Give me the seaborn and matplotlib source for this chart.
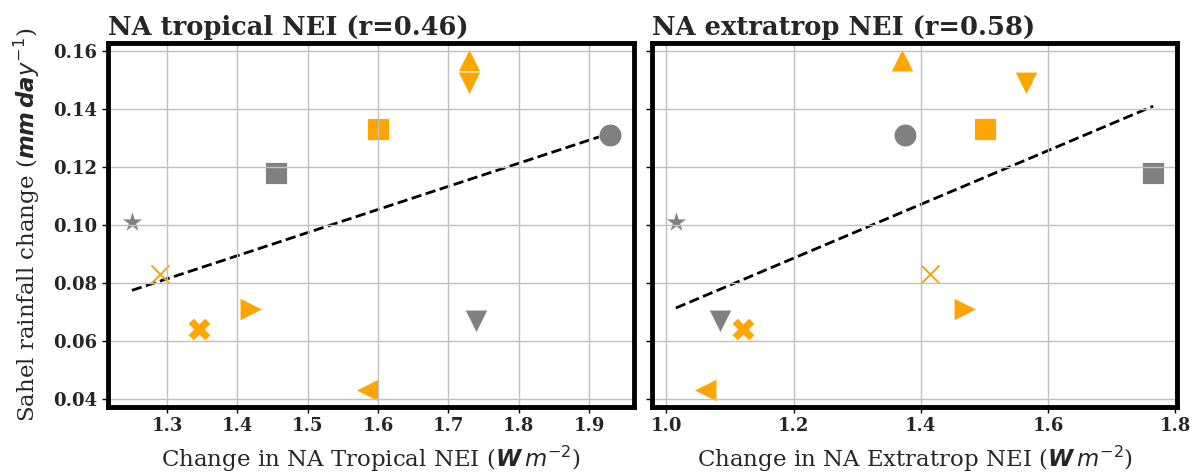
import matplotlib
matplotlib.use("Agg")
import matplotlib.pyplot as plt
import seaborn as sns
import pandas as pd

# Data (one point per model)

model_markers = ["o", "s", "s", "^", "v", "v", "*", "x", "X", ">", "<"]
model_colors = ["grey", "grey", "orange", "orange", "orange", "grey",
                "grey", "orange", "orange", "orange", "orange"]

sahel_rain = [0.131, 0.118, 0.133, 0.157, 0.149, 0.067, 0.101, 0.083, 0.064, 0.071, 0.043]
tropical_nei = [1.93, 1.455, 1.60, 1.73, 1.73, 1.74, 1.25, 1.29, 1.345, 1.42, 1.585]
extratrop_nei = [1.375, 1.765, 1.50, 1.37, 1.565, 1.085, 1.015, 1.415, 1.12, 1.47, 1.06]

titles = ["NA tropical NEI (r=0.46)", "NA extratrop NEI (r=0.58)"]
xlabels = [r"Change in NA Tropical NEI ($\boldsymbol{W\,m^{-2}}$)",
           r"Change in NA Extratrop NEI ($\boldsymbol{W\,m^{-2}}$)"]
xticks_list = [[1.3, 1.4, 1.5, 1.6, 1.7, 1.8, 1.9], [1.0, 1.2, 1.4, 1.6, 1.8]]
yticks = [0.04, 0.06, 0.08, 0.10, 0.12, 0.14, 0.16]

sns.set_style("whitegrid", {"xtick.bottom": True, "ytick.left": True})
plt.rcParams["font.family"] = ["DejaVu Serif"]
plt.rcParams["mathtext.fontset"] = "dejavusans"

W, H = 1195, 475
fig = plt.figure(figsize=(W / 100, H / 100), dpi=100)
ax1 = fig.add_axes([108 / W, 1 - 407 / H, 526 / W, 364 / H])
ax2 = fig.add_axes([652 / W, 1 - 407 / H, 525 / W, 364 / H], sharey=ax1)

for ax, xvals, title, xlabel, xticks in zip(
        [ax1, ax2], [tropical_nei, extratrop_nei], titles, xlabels, xticks_list):
    df = pd.DataFrame({"nei": xvals, "rain": sahel_rain})

    # dashed least-squares line across the data range (drawn under the markers)
    sns.regplot(data=df, x="nei", y="rain", scatter=False, ci=None, ax=ax,
                line_kws={"color": "black", "linestyle": "--", "linewidth": 2, "zorder": 0.8})

    for i in range(len(df)):
        m = model_markers[i]
        if m == "x":
            sns.scatterplot(x=[xvals[i]], y=[sahel_rain[i]], marker=m, s=170,
                            color=model_colors[i], linewidth=1.5, ax=ax, zorder=1)
        else:
            sns.scatterplot(x=[xvals[i]], y=[sahel_rain[i]], marker=m, s=270,
                            color=model_colors[i], edgecolor="white", linewidth=0.6,
                            ax=ax, zorder=1)

    # grid sits over the markers, as in matplotlib's default style
    ax.set_axisbelow("line")
    ax.set_title(title, loc="left", fontsize=18.5, fontweight="bold", pad=6)
    ax.set_xlabel(xlabel, fontsize=16.5, labelpad=6)
    ax.set_ylabel("")
    ax.set_xticks(xticks)
    ax.set_yticks(yticks)
    ax.grid(True, color="#c0c0c0", linewidth=1)
    for spine in ax.spines.values():
        spine.set_visible(True)
        spine.set_color("black")
        spine.set_linewidth(3.5)
    ax.tick_params(axis="both", labelsize=13, length=4, width=1, color="black")
    for lab in ax.get_xticklabels() + ax.get_yticklabels():
        lab.set_fontweight("bold")

ax1.set_ylabel(r"Sahel rainfall change ($\boldsymbol{mm\,day^{-1}}$)", fontsize=16.5,
               labelpad=8)
plt.setp(ax2.get_yticklabels(), visible=False)

fig.savefig("out.png", dpi=100)
plt.close(fig)
